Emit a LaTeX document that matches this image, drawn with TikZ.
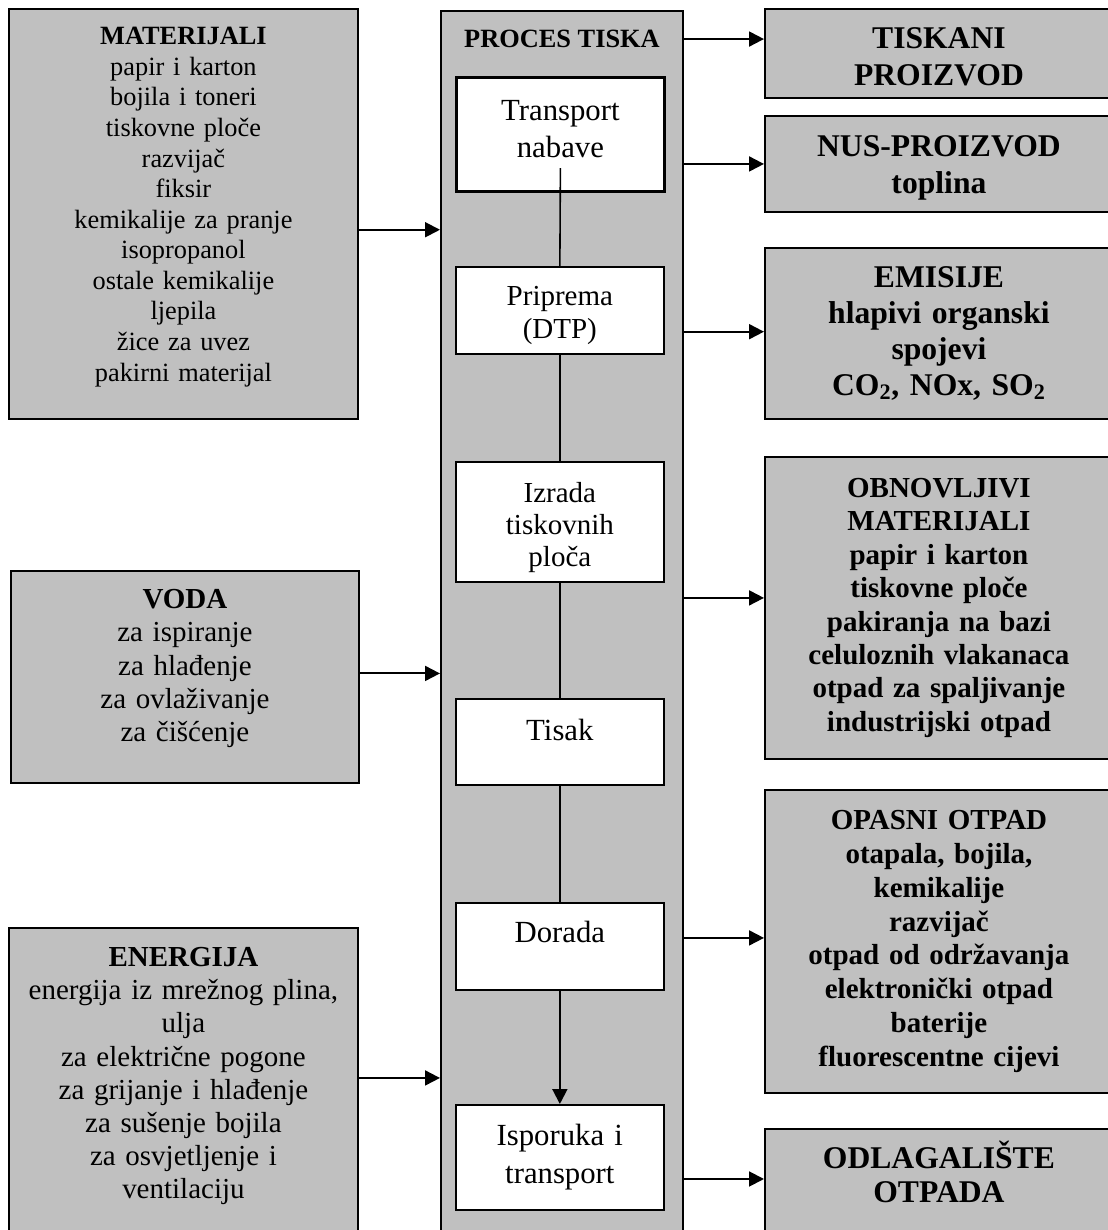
\documentclass[tikz,border=0pt]{standalone}
\usepackage{fontspec}
\setmainfont{Liberation Serif}
\usetikzlibrary{arrows.meta,positioning}
\definecolor{boxgray}{RGB}{192,192,192}
\newcommand{\lowpad}[1]{\rule[-#1]{0pt}{#1}}
\newcommand{\highpad}[1]{\rule{0pt}{#1}}

\begin{document}
\begin{tikzpicture}
    [x=0.02cm,y=-0.02cm,
     inbox/.style={draw,line width=1.1pt,fill=boxgray,align=center,anchor=north west,inner sep=0pt},
     outbox/.style={inbox,minimum width=6.96cm,text width=6.7cm},
     procbox/.style={draw,line width=1.1pt,fill=boxgray,anchor=north west,minimum width=4.84cm,minimum height=24.6cm},
     stepbox/.style={draw,line width=1pt,fill=white,align=center,anchor=north west,inner sep=0pt,
        minimum width=4.16cm,text width=4cm},
     arr/.style={line width=1.1pt,-{Triangle[length=8.5pt,width=8.5pt]}},
     link/.style={line width=0.9pt}]
    \useasboundingbox (0,0) rectangle (1107,1230);
    % ulazi
    \node[inbox,minimum width=6.98cm,minimum height=8.2cm,text width=6.8cm,
          font=\fontsize{15}{17.4}\selectfont] (mat) at (8,8)
      {\textbf{MATERIJALI}\\papir i karton\\bojila i toneri\\tiskovne ploče\\razvijač\\fiksir\\
       kemikalije za pranje\\isopropanol\\ostale kemikalije\\ljepila\\žice za uvez\\
       pakirni materijal\lowpad{11pt}};
    \node[inbox,minimum width=6.96cm,minimum height=4.24cm,text width=6.8cm,
          font=\fontsize{16.5}{19}\selectfont] (voda) at (10,570)
      {\textbf{VODA}\\za ispiranje\\za hlađenje\\za ovlaživanje\\za čišćenje\lowpad{13pt}};
    \node[inbox,minimum width=6.98cm,minimum height=6.26cm,text width=6.8cm,
          font=\fontsize{16.5}{18.9}\selectfont] (en) at (8,927)
      {\textbf{ENERGIJA}\\energija iz mrežnog plina,\\ulja\\za električne pogone\\
       za grijanje i hlađenje\\za sušenje bojila\\za osvjetljenje i\\ventilaciju\lowpad{13pt}};
    % proces
    \node[procbox,label={[font=\bfseries\fontsize{15}{18}\selectfont,anchor=north,yshift=-8pt]north:PROCES TISKA}]
      (proc) at (440,10) {};
    \node[stepbox,line width=1.6pt,minimum height=2.28cm,font=\fontsize{17.5}{21}\selectfont] (tn) at (455,76)
      {Transport\\nabave\lowpad{6pt}};
    \node[stepbox,minimum height=1.74cm,font=\fontsize{16.5}{18.7}\selectfont] (pp) at (455,266)
      {\highpad{17pt}Priprema\\(DTP)};
    \node[stepbox,minimum height=2.4cm,font=\fontsize{16.5}{18.4}\selectfont] (iz) at (455,461)
      {\highpad{18pt}Izrada\\tiskovnih\\ploča};
    \node[stepbox,minimum height=1.72cm,font=\fontsize{17.5}{21}\selectfont] (ts) at (455,698)
      {Tisak\lowpad{14pt}};
    \node[stepbox,minimum height=1.74cm,font=\fontsize{17.5}{21}\selectfont] (dr) at (455,902)
      {Dorada\lowpad{16pt}};
    \node[stepbox,minimum height=2.1cm,font=\fontsize{17.5}{21.5}\selectfont] (is) at (455,1104)
      {Isporuka i\\transport};
    % izlazi
    \node[outbox,minimum height=1.78cm,font=\bfseries\fontsize{18}{21.3}\selectfont] (tp) at (764,8)
      {\highpad{15.5pt}TISKANI\\PROIZVOD};
    \node[outbox,minimum height=1.92cm,font=\bfseries\fontsize{18}{21}\selectfont] (np) at (764,115)
      {\highpad{16pt}NUS-PROIZVOD\\toplina};
    \node[outbox,minimum height=3.42cm,font=\bfseries\fontsize{18}{20.4}\selectfont] (em) at (764,247)
      {EMISIJE\\hlapivi organski\\spojevi\\CO\textsubscript{2}, NOx, SO\textsubscript{2}};
    \node[outbox,minimum height=6.04cm,font=\bfseries\fontsize{16.5}{19}\selectfont] (ob) at (764,456)
      {OBNOVLJIVI\\MATERIJALI\\papir i karton\\tiskovne ploče\\pakiranja na bazi\\
       celuloznih vlakanaca\\otpad za spaljivanje\\industrijski otpad};
    \node[outbox,minimum height=6.06cm,font=\bfseries\fontsize{16.5}{19.3}\selectfont] (op) at (764,789)
      {OPASNI OTPAD\\otapala, bojila,\\kemikalije\\razvijač\\otpad od održavanja\\
       elektronički otpad\\baterije\\fluorescentne cijevi};
    \node[outbox,minimum height=2.24cm,font=\bfseries\fontsize{18}{19.8}\selectfont] (od) at (764,1128)
      {ODLAGALIŠTE\\OTPADA\lowpad{15pt}};
    % veze
    \draw[link] ([yshift=14pt]tn.south) -- (pp.north);
    \draw[link] (pp.south) -- (iz.north);
    \draw[link] (iz.south) -- (ts.north);
    \draw[link] (ts.south) -- (dr.north);
    \draw[arr] (dr.south) -- (is.north);
    \draw[arr] ([yshift=-9pt]mat.east) -- ([yshift=-9pt]mat.east -| proc.west);
    \draw[arr] ([yshift=2pt]voda.east) -- ([yshift=2pt]voda.east -| proc.west);
    \draw[arr] ([yshift=3.7pt]en.east) -- ([yshift=3.7pt]en.east -| proc.west);
    \draw[arr] ([yshift=8.2pt]tp.west -| proc.east) -- ([yshift=8.2pt]tp.west);
    \draw[arr] (np.west -| proc.east) -- (np.west);
    \draw[arr] ([yshift=1pt]em.west -| proc.east) -- ([yshift=1pt]em.west);
    \draw[arr] ([yshift=5.7pt]ob.west -| proc.east) -- ([yshift=5.7pt]ob.west);
    \draw[arr] ([yshift=2pt]op.west -| proc.east) -- ([yshift=2pt]op.west);
    \draw[arr] ([yshift=3.4pt]od.west -| proc.east) -- ([yshift=3.4pt]od.west);
\end{tikzpicture}
\end{document}
